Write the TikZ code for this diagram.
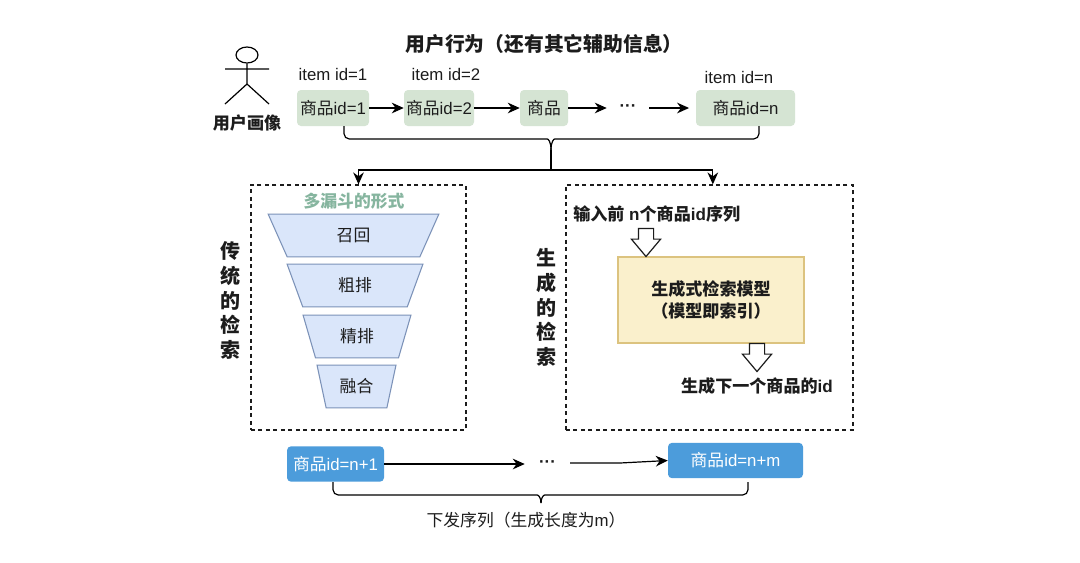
\documentclass[tikz,border=0pt]{standalone}
\usepackage{xcolor}
\usepackage{fontspec}
\setmainfont{Liberation Sans}
\newfontfamily\zhfont{Noto Sans CJK SC}
\newcommand{\zh}[1]{{\zhfont #1}}
\usetikzlibrary{arrows.meta, positioning, shapes.geometric, shapes.arrows}
\definecolor{itemGreen}{HTML}{D5E4D3}
\definecolor{funnelFill}{HTML}{DAE6FA}
\definecolor{funnelLine}{HTML}{7C92B8}
\definecolor{funnelHead}{HTML}{86B59F}
\definecolor{modelFill}{HTML}{FAF0CC}
\definecolor{modelLine}{HTML}{DCC37F}
\definecolor{outBlue}{HTML}{4C9CDB}
\definecolor{inkGrey}{HTML}{1C1C1C}

\begin{document}
\begin{tikzpicture}[
  x=0.75pt, y=-0.75pt,
  txt/.style={inner sep=0pt, text=inkGrey, font=\fontsize{12.6pt}{15pt}\selectfont},
  boldtxt/.style={txt, font=\bfseries\fontsize{12.8pt}{15.5pt}\selectfont},
  itembox/.style={fill=itemGreen, rounded corners=3pt, inner sep=0pt, minimum height=27pt,
               text=inkGrey, font=\fontsize{12.6pt}{15pt}\selectfont},
  outbox/.style={fill=outBlue, rounded corners=3pt, inner sep=0pt, minimum height=26.5pt,
               text=white, font=\fontsize{12.6pt}{15pt}\selectfont},
  funnel/.style={draw=funnelLine, fill=funnelFill, line width=0.8pt, trapezium, shape border rotate=180,
               trapezium stretches=true, trapezium left angle=72, trapezium right angle=72,
               minimum height=32pt, inner sep=0pt, text=inkGrey, font=\fontsize{12.6pt}{15pt}\selectfont},
  dashbox/.style={draw=inkGrey, dash pattern=on 3pt off 2.6pt, line width=0.9pt, inner sep=0pt, minimum height=183.75pt},
  sidelabel/.style={inner sep=0pt, align=center, text=inkGrey, font=\bfseries\fontsize{15pt}{18.6pt}\selectfont},
  hollow/.style={draw=inkGrey, fill=white, line width=0.9pt, single arrow, shape border rotate=270,
               inner xsep=5.25pt, inner ysep=0pt,
               minimum height=21pt, minimum width=21pt, single arrow head extend=5.25pt,
               single arrow tip angle=80, single arrow head indent=0pt},
  dotsnode/.style={inner sep=0pt, text=inkGrey, font=\bfseries\fontsize{12.6pt}{15pt}\selectfont},
  arr/.style={-{Stealth[length=9pt,width=8pt]}, line width=0.9pt, color=black},
  bline/.style={line width=0.9pt, color=black, rounded corners=4pt}
]
  \useasboundingbox[fill=white] (0,0) rectangle (1080,562);

  % top row
  \node[boldtxt, font=\bfseries\fontsize{14.85pt}{17pt}\selectfont] (title) at (544,44) {\zh{用户行为（还有其它辅助信息）}};

  \node[draw=black, ellipse, line width=0.9pt, minimum width=16.5pt, minimum height=12pt, inner sep=0pt] (head) at (247,55) {};
  \coordinate (hip) at (247,84);
  \coordinate (armL) at (225,69);
  \coordinate (armR) at (269,69);
  \coordinate (footL) at (225,104);
  \coordinate (footR) at (269,104);
  \draw[line width=0.9pt] (head.south) -- (hip) (armL) -- (armR) (footL) -- (hip) -- (footR);
  \node[boldtxt] (person) at (247,123) {\zh{用户画像}};

  \node[txt] (idone) at (333,74) {item id=1};
  \node[txt] (idtwo) at (446,74) {item id=2};
  \node[txt] (idn) at (739,77) {item id=n};

  \node[itembox, minimum width=54pt] (gone) at (333,108) {\zh{商品}id=1};
  \node[itembox, minimum width=52.5pt] (gtwo) at (439,108) {\zh{商品}id=2};
  \node[itembox, minimum width=36pt] (gthree) at (544,108) {\zh{商品}};
  \node[dotsnode, minimum width=31.5pt] (dotstop) at (628,108) {\raisebox{0.5pt}{···}};
  \node[itembox, minimum width=74.25pt] (gn) at (745.5,108) {\zh{商品}id=n};

  \draw[arr] (gone) -- (gtwo);
  \draw[arr] (gtwo) -- (gthree);
  \draw[arr] (gthree.east) -- (dotstop.west);
  \draw[arr, shorten >=5pt] (dotstop.east) -- (gn.west);

  % brace and split
  \coordinate (bl) at (344,126);
  \coordinate (br) at (759,126);
  \coordinate (btip) at (551,150);
  \coordinate (bjoin) at (551,170);
  \draw[bline] (bl) -- (344,139) -- (542,139) .. controls (548,139) and (551,141) .. (btip);
  \draw[bline] (br) -- (759,139) -- (560,139) .. controls (554,139) and (551,141) .. (btip);

  % dashed areas
  \node[dashbox, minimum width=161.25pt] (boxl) at (358.5,307.5) {};
  \node[dashbox, minimum width=215.25pt] (boxr) at (709.5,307.5) {};

  \draw[line width=0.9pt] (btip) -- (bjoin);
  \draw[arr] (bjoin) -| (boxl.north);
  \draw[arr] (bjoin) -| ([xshift=2.5pt]boxr.north);

  % funnel
  \node[txt, text=funnelHead, font=\bfseries\fontsize{12.6pt}{15pt}\selectfont] (funnelname) at (354,201) {\zh{多漏斗的形式}};
  \node[funnel, minimum width=128.25pt] (recall) at (353.5,235.5) {\zh{召回}};
  \node[funnel, minimum width=102pt] (rough) at (355,285.5) {\zh{粗排}\hspace{3pt}};
  \node[funnel, minimum width=81pt] (fine) at (357,336.5) {\zh{精排}\hspace{6pt}};
  \node[funnel, minimum width=59.25pt] (merge) at (356.5,386.5) {\zh{融合}};
  \node[sidelabel] (trad) at (230,300.5) {\zh{传}\\\zh{统}\\\zh{的}\\\zh{检}\\\zh{索}};

  % generative side
  \node[sidelabel] (gen) at (546,307.5) {\zh{生}\\\zh{成}\\\zh{的}\\\zh{检}\\\zh{索}};
  \node[boldtxt, anchor=west] (inseq) at (573,214) {\zh{输入前} n\zh{个商品}id\zh{序列}};
  \node[draw=modelLine, fill=modelFill, line width=0.9pt, minimum width=139.5pt, minimum height=64.5pt, inner sep=0pt,
        align=center, text=inkGrey, font=\bfseries\fontsize{12.8pt}{16.5pt}\selectfont] (model) at (711,300) {\zh{生成式检索模型}\\\zh{（模型即索引）}};
  \node[hollow] (inarrow) at (646,238) {};
  \node[hollow] (outarrow) at (757,353) {};
  \node[boldtxt] (nextid) at (757,386) {\zh{生成下一个商品的}id};

  % output row
  \node[outbox, minimum width=72.75pt] (outone) at (335.5,464) {\zh{商品}id=n+1};
  \node[dotsnode, minimum width=33.75pt] (dotsout) at (547.5,464) {\raisebox{0.5pt}{···}};
  \node[outbox, minimum width=101.25pt] (outm) at (735.5,460.5) {\zh{商品}id=n+m};

  \coordinate (dotsoutex) at (570,463);
  \coordinate (outkink) at (620,463);
  \draw[arr] (outone.east) -- (dotsout.west);
  \draw[arr] (dotsoutex) -- (outkink) -- (outm.west);

  \coordinate (cl) at (333,482);
  \coordinate (cr) at (748,482);
  \coordinate (ctip) at (541,503);
  \draw[bline] (cl) -- (333,495) -- (532,495) .. controls (538,495) and (541,497) .. (ctip);
  \draw[bline] (cr) -- (748,495) -- (550,495) .. controls (544,495) and (541,497) .. (ctip);
  \node[txt] (outcaption) at (526,520) {\zh{下发序列（生成长度为}m\zh{）}};
\end{tikzpicture}
\end{document}
